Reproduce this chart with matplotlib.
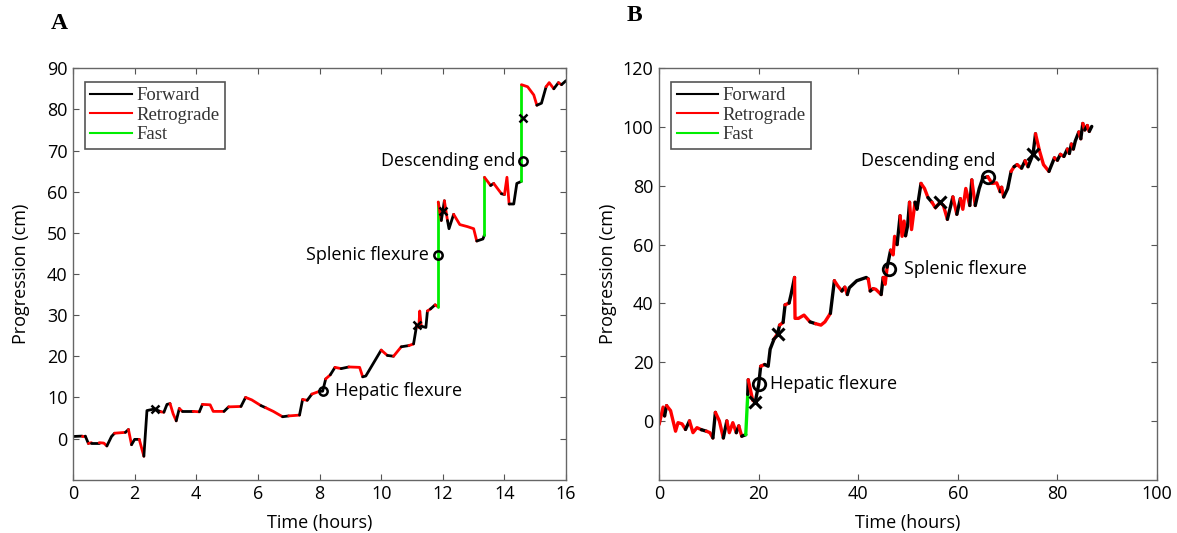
import numpy as np
import matplotlib
matplotlib.use("Agg")
import matplotlib.pyplot as plt
from matplotlib.lines import Line2D

# ---- panel A: progression over 16 h ----
t_a = [0, 0.3, 0.4, 0.5, 0.6, 0.85, 1.0, 1.1, 1.25, 1.35, 1.7, 1.8, 1.9, 2.0, 2.15, 2.3,
       2.4, 2.65, 2.85, 2.95, 3.05, 3.15, 3.25, 3.35, 3.45, 3.55, 3.9, 4.1, 4.2, 4.45, 4.55,
       4.9, 5.05, 5.45, 5.6, 5.8, 6.1, 6.25, 6.5, 6.8, 7.0, 7.35, 7.45, 7.6, 7.75, 8.0, 8.1,
       8.2, 8.35, 8.5, 8.7, 8.95, 9.3, 9.4, 9.5, 10.0, 10.2, 10.4, 10.65, 10.9, 11.05, 11.15,
       11.22, 11.25, 11.3, 11.45, 11.5, 11.6, 11.75, 11.85, 11.85, 11.95, 12.0, 12.05, 12.15,
       12.2, 12.35, 12.55, 12.8, 13.0, 13.1, 13.3, 13.35, 13.35, 13.55, 13.65, 13.9, 14.0,
       14.08, 14.15, 14.3, 14.4, 14.55, 14.55, 14.75, 14.95, 15.05, 15.2, 15.35, 15.45, 15.6,
       15.75, 15.85, 16.0]
y_a = [0.5, 0.6, 0.6, -1.2, -1.0, -1.0, -1.1, -1.8, 0.5, 1.3, 1.5, 2.2, -1.5, -0.2, -0.2, -4.3,
       6.8, 7.2, 6.5, 6.4, 8.3, 8.5, 6.0, 4.3, 7.3, 6.6, 6.6, 6.5, 8.3, 8.2, 6.6,
       6.6, 7.7, 7.8, 10.0, 9.4, 8.0, 7.5, 6.6, 5.3, 5.5, 5.7, 9.5, 9.3, 10.8, 11.5, 11.5,
       14.5, 15.5, 17.3, 17.0, 17.4, 17.3, 15.0, 15.2, 21.5, 20.2, 20.0, 22.3, 22.6, 23.0, 27.5,
       27.0, 31.0, 27.3, 27.0, 31.0, 31.5, 32.5, 32.0, 57.5, 53.0, 55.3, 57.8, 53.0,
       51.0, 54.5, 52.0, 51.5, 51.0, 48.0, 48.5, 49.5, 63.5, 61.5, 62.0, 59.5, 59.3,
       63.5, 57.0, 57.0, 62.0, 62.5, 86.0, 85.5, 83.5, 81.0, 81.5, 85.5, 86.5, 85.0,
       86.5, 86.0, 87.0]
# type of the segment starting at each point: k = forward, r = retrograde, g = fast
kind_a = ("krkrkrrkkrkrkkrk" "kkrkkrrkrkrkrrr" "krkrrkrrkrkrkrkk" "rkrkrrkkrkrkrkr"
          "rrkkrkrgrkkrk" "krrrrkkgrkrkr" "rkkkgrrrkkrrk" "rk")

hold_a = [(8.1, 11.5), (11.85, 44.5), (14.6, 67.5)]
cross_a = [(2.65, 7.2), (11.15, 27.5), (12.0, 55.3), (14.6, 77.8)]
names = ["Hepatic flexure", "Splenic flexure", "Descending end"]

# ---- panel B: progression over 87 h ----
t_b = [0, 0.8, 1.1, 1.5, 2.3, 3.3, 3.8, 4.6, 5.3, 6.1, 6.8, 7.6, 8.5, 9.5, 10.2, 10.8,
       11.3, 12.1, 12.9, 13.6, 14.1, 14.8, 15.5, 16.0, 16.6, 17.4, 17.8, 17.9, 18.8, 19.3,
       20.0, 20.4, 21.2, 21.9, 22.3, 23.1, 23.8, 24.2, 24.9, 25.3, 26.1, 26.5, 27.2, 27.3,
       28.0, 29.1, 30.3, 31.4, 32.5, 33.3, 34.4, 35.2, 35.9, 36.7, 37.3, 37.8, 38.2, 39.7,
       41.6, 42.0, 42.4, 43.0, 43.5, 44.6, 45.0, 45.4, 45.8, 46.5, 47.0, 47.3, 47.8, 48.4,
       48.8, 49.2, 49.5, 49.9, 50.3, 50.7, 51.4, 51.8, 52.6, 53.3, 54.0, 54.8, 55.5, 56.4,
       57.1, 57.9, 59.0, 59.8, 60.5, 61.0, 61.6, 62.4, 62.8, 63.5, 64.3, 65.0, 66.0, 66.9,
       67.8, 68.5, 68.8, 69.2, 70.0, 70.7, 71.3, 71.9, 72.8, 73.5, 74.1, 75.1, 75.6, 76.4,
       77.2, 78.3, 79.4, 80.0, 80.6, 81.3, 82.0, 82.4, 82.8, 83.2, 83.6, 84.3, 84.7, 85.1,
       85.5, 86.0, 86.4, 86.9]
y_b = [-1.2, 4.7, 1.7, 5.2, 3.5, -3.5, -0.6, -1.0, -2.9, 0.0, -4.0, -2.3, -3.0, -3.5, -4.0, -5.8,
       2.9, 0.0, -5.8, 0.0, -4.0, -0.6, -4.0, -1.7, -5.2, -4.7, 9.0, 14.0, 7.0, 6.4,
       12.4, 18.6, 19.2, 18.6, 24.4, 27.9, 29.7, 32.6, 33.5, 39.5, 40.1, 43.0, 48.8, 34.9,
       34.9, 36.0, 33.7, 33.1, 32.6, 33.7, 36.6, 47.7, 45.9, 44.2, 45.5, 43.0, 45.3, 47.7,
       48.8, 48.3, 44.2, 45.0, 44.8, 43.0, 48.8, 46.5, 52.3, 58.1, 56.5, 62.8, 60.0, 69.8,
       62.8, 68.0, 63.0, 66.3, 74.4, 65.1, 74.4, 72.0, 80.8, 79.1, 76.0, 74.4, 72.5, 74.4,
       73.3, 68.6, 76.2, 70.3, 75.6, 72.0, 79.1, 73.3, 82.0, 73.3, 79.1, 82.6, 83.1, 80.8,
       81.0, 78.0, 79.5, 76.2, 79.0, 84.9, 86.5, 87.2, 86.0, 88.5, 86.5, 90.7, 97.7, 91.9,
       87.2, 84.9, 89.5, 88.7, 90.7, 90.0, 92.5, 91.0, 94.2, 92.5, 95.3, 98.3, 96.0, 101.2,
       99.0, 100.5, 98.5, 100.2]
kind_b = ("rrkrrrrrkrrrkrrk" "rrkrrrkrkgkrrk" "krkkkrkrkrkkrr" "rrkrrrkrrkrkkk"
          "krkrrkrrkrrrkr" "rrkkrrkkrrkrrr" "rkrkrrrkrkkkrr" "rkrkkrkrkrkkrr"
          "rkrkrkrkrkkrkr" "krk")

hold_b = [(20.0, 12.4), (46.1, 51.7), (66.0, 83.1)]
cross_b = [(19.3, 6.4), (23.8, 29.7), (56.4, 74.4), (75.1, 90.7)]

colors = {"k": "black", "r": "#ff0000", "g": "#00ee00"}
plt.rcParams["font.family"] = ["Open Sans", "DejaVu Sans"]

fig = plt.figure(figsize=(11.77, 5.33), dpi=100)
ax_a = fig.add_axes([0.062, 0.100, 0.419, 0.772])
ax_b = fig.add_axes([0.560, 0.100, 0.423, 0.772])


def draw_trace(ax, t, y, kind, lw):
    t = np.asarray(t)
    y = np.asarray(y)
    n = len(t) - 1
    kind = (kind + "k" * n)[:n]
    i = 0
    while i < n:
        j = i
        while j + 1 < n and kind[j + 1] == kind[i]:
            j += 1
        ax.plot(t[i:j + 2], y[i:j + 2], color=colors[kind[i]], lw=lw,
                solid_joinstyle="round", solid_capstyle="round", zorder=2)
        i = j + 1


def style(ax, xlim, ylim, xt, yt, ypad):
    ax.set_xlim(*xlim)
    ax.set_ylim(*ylim)
    ax.set_xticks(xt)
    ax.set_yticks(yt)
    ax.tick_params(direction="in", top=True, right=True, length=4, labelsize=13,
                   color="#555555", pad=4)
    for s in ax.spines.values():
        s.set_color("#666666")
        s.set_linewidth(1.0)
    ax.set_xlabel("Time (hours)", fontsize=13, labelpad=8)
    ax.set_ylabel("Progression (cm)", fontsize=13, labelpad=ypad)
    handles = [Line2D([], [], color=colors[c], lw=1.5) for c in "krg"]
    leg = ax.legend(handles, ["Forward", "Retrograde", "Fast"], loc="upper left",
                    bbox_to_anchor=(0.005, 0.99), fancybox=False, framealpha=1,
                    edgecolor="#555555", handlelength=2.2, handletextpad=0.25,
                    borderpad=0.3, labelspacing=0.12,
                    prop={"family": "Liberation Serif", "size": 13.5})
    leg.get_frame().set_linewidth(1.2)
    for txt in leg.get_texts():
        txt.set_color("#333333")


draw_trace(ax_a, t_a, y_a, kind_a, 2.0)
for x, y in hold_a:
    ax_a.plot(x, y, "o", mfc="none", mec="black", ms=6, mew=1.8, zorder=3)
for x, y in cross_a:
    ax_a.plot(x, y, "x", color="black", ms=6, mew=1.8, zorder=3)
ax_a.text(8.5, 11.5, names[0], fontsize=13, va="center", ha="left")
ax_a.text(11.55, 44.5, names[1], fontsize=13, va="center", ha="right")
ax_a.text(14.35, 67.5, names[2], fontsize=13, va="center", ha="right")
style(ax_a, (0, 16), (-10, 90), range(0, 17, 2), range(0, 91, 10), 12)

draw_trace(ax_b, t_b, y_b, kind_b, 2.4)
for x, y in hold_b:
    ax_b.plot(x, y, "o", mfc="none", mec="black", ms=9, mew=2.0, zorder=3)
for x, y in cross_b:
    ax_b.plot(x, y, "x", color="black", ms=8, mew=2.2, zorder=3)
ax_b.text(22.2, 12.4, names[0], fontsize=13, va="center", ha="left")
ax_b.text(49.2, 51.7, names[1], fontsize=13, va="center", ha="left")
ax_b.text(54.0, 88.4, names[2], fontsize=13, va="center", ha="center")
style(ax_b, (0, 100), (-20, 120), range(0, 101, 20), range(0, 121, 20), 4)

fig.text(0.043, 0.955, "A", fontsize=17, fontweight="bold", family="Liberation Serif",
         va="center", ha="left")
fig.text(0.532, 0.970, "B", fontsize=17, fontweight="bold", family="Liberation Serif",
         va="center", ha="left")

fig.savefig("out.png", dpi=100)
